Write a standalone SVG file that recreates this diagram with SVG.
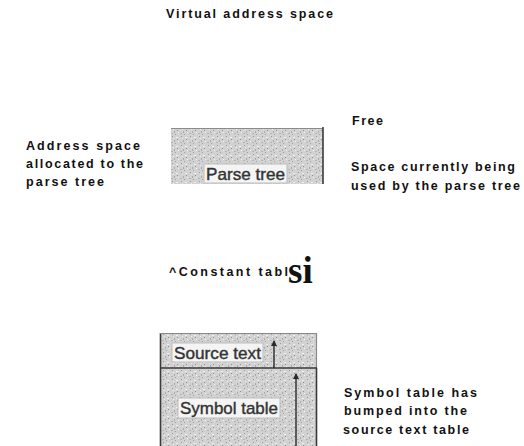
<svg xmlns="http://www.w3.org/2000/svg" width="524" height="446" viewBox="0 0 524 446">
<style>
.t{font-family:"Liberation Sans",Arial,sans-serif;font-weight:bold;font-size:12.5px;fill:#111;}
.lbl{font-family:"Liberation Sans",Arial,sans-serif;font-size:17px;fill:#333;stroke:#333;stroke-width:0.4;}
.lblbg{fill:#f4f4f4;stroke:#bdbdbd;stroke-width:1;}
.edge{stroke:#3a3a3a;stroke-width:1.6;fill:none;}
.soft{stroke:#8a8a8a;stroke-width:1.2;fill:none;}
.conn{stroke:#2a2a2a;stroke-width:1.4;fill:none;marker-end:url(#ah);}
</style>
<defs>
<pattern id="tex" width="9" height="9" patternUnits="userSpaceOnUse">
<rect width="9" height="9" fill="#d2d2d2"/>
<rect x="1" y="1" width="1" height="1" fill="#9a9a9a"/>
<rect x="5" y="2" width="2" height="1" fill="#f0f0f0"/>
<rect x="3" y="5" width="1" height="2" fill="#aaaaaa"/>
<rect x="7" y="6" width="1" height="1" fill="#f2f2f2"/>
<rect x="0" y="7" width="2" height="1" fill="#b4b4b4"/>
<rect x="6" y="4" width="1" height="1" fill="#8f8f8f"/>
<rect x="2" y="3" width="1" height="1" fill="#ececec"/>
<rect x="4" y="8" width="1" height="1" fill="#a0a0a0"/>
</pattern>
<marker id="ah" markerWidth="6" markerHeight="8" refX="5" refY="4" orient="auto" markerUnits="userSpaceOnUse">
<path d="M0,1 L6,4 L0,7 Z" fill="#2a2a2a"/>
</marker>
</defs>

<g id="title"><text class="t" x="166" y="18" textLength="167" lengthAdjust="spacing">Virtual address space</text></g>

<g id="note-allocated">
<text class="t" x="26" y="150" textLength="114" lengthAdjust="spacing">Address space</text>
<text class="t" x="26" y="168" textLength="117" lengthAdjust="spacing">allocated to the</text>
<text class="t" x="26" y="186" textLength="78" lengthAdjust="spacing">parse tree</text>
</g>

<g id="note-free"><text class="t" x="352" y="125" textLength="31" lengthAdjust="spacing">Free</text></g>

<g id="note-used">
<text class="t" x="351" y="171" textLength="164" lengthAdjust="spacing">Space currently being</text>
<text class="t" x="351" y="190" textLength="169" lengthAdjust="spacing">used by the parse tree</text>
</g>

<g id="parse-tree">
<rect x="171" y="128" width="152" height="56" fill="url(#tex)"/>
<line class="soft" x1="171" y1="128.5" x2="323" y2="128.5"/>
<line class="edge" x1="323" y1="127" x2="323" y2="184"/>
<rect class="lblbg" x="204" y="164" width="83" height="19"/>
<text class="lbl" x="206" y="180" textLength="79" lengthAdjust="spacingAndGlyphs">Parse tree</text>
</g>

<g id="constant-table">
<text class="t" x="169" y="276" textLength="119" lengthAdjust="spacing">^Constant tabl</text>
<text x="288" y="283" font-family="'Liberation Serif','Times New Roman',serif" font-weight="bold" font-size="37" fill="#111">si</text>
</g>

<g id="memory-block">
<rect x="160" y="333" width="157" height="113" fill="url(#tex)"/>
<line class="edge" x1="160.5" y1="333" x2="160.5" y2="446"/>
<line class="soft" x1="160" y1="333.5" x2="317" y2="333.5"/>
<line class="soft" x1="316.5" y1="333" x2="316.5" y2="368"/>
<line class="edge" x1="316.5" y1="368" x2="316.5" y2="446"/>
<line class="edge" x1="160" y1="368" x2="317" y2="368"/>
<g id="source-text">
<rect class="lblbg" x="172" y="343" width="91" height="19"/>
<text class="lbl" x="174" y="359" textLength="87" lengthAdjust="spacingAndGlyphs">Source text</text>
</g>
<g id="symbol-table">
<rect class="lblbg" x="178" y="398" width="102" height="20"/>
<text class="lbl" x="180" y="414" textLength="98" lengthAdjust="spacingAndGlyphs">Symbol table</text>
</g>
</g>

<g id="connectors">
<line class="conn" x1="274" y1="368" x2="274" y2="341"/>
<line class="conn" x1="296" y1="446" x2="296" y2="374"/>
</g>

<g id="note-bumped">
<text class="t" x="344" y="397" textLength="133" lengthAdjust="spacing">Symbol table has</text>
<text class="t" x="344" y="415" textLength="123" lengthAdjust="spacing">bumped into the</text>
<text class="t" x="343" y="434" textLength="126" lengthAdjust="spacing">source text table</text>
</g>
</svg>
